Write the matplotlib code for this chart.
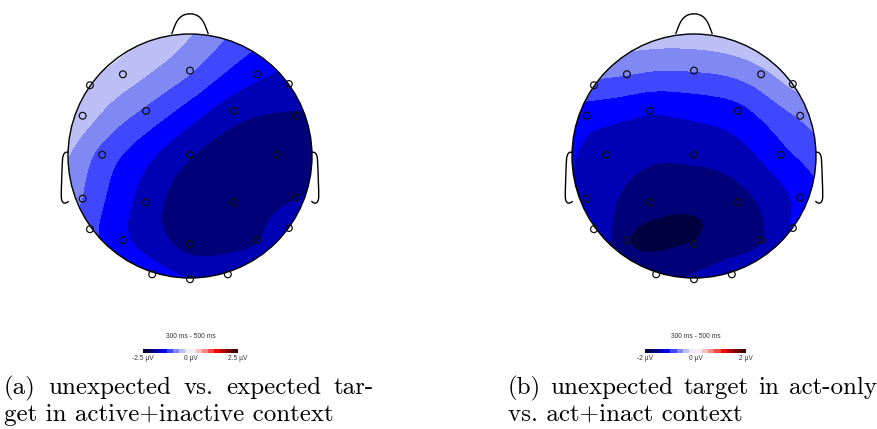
import numpy as np
import matplotlib
matplotlib.use('Agg')
import matplotlib.pyplot as plt
from matplotlib.colors import ListedColormap, BoundaryNorm
from matplotlib.patches import Circle, PathPatch
from matplotlib.path import Path
from matplotlib.cm import ScalarMappable

# electrode positions (head units, nose up, radius 1 = head outline)
elec_x = [-0.82, -0.55, 0.00, 0.55, 0.81,
          -0.88, -0.36, 0.36, 0.87,
          -0.72, 0.00, 0.71,
          -0.88, -0.36, 0.36, 0.87,
          -0.82, -0.55, 0.00, 0.55, 0.81,
          -0.31, 0.00, 0.31]
elec_y = [0.58, 0.67, 0.70, 0.67, 0.59,
          0.33, 0.37, 0.37, 0.33,
          0.01, 0.01, 0.01,
          -0.35, -0.38, -0.38, -0.34,
          -0.60, -0.69, -0.72, -0.69, -0.59,
          -0.97, -1.01, -0.97]

# mean amplitude 300-500 ms (µV) at each electrode
vals_a = [-0.34, -0.46, -0.90, -1.50, -1.70,
          -0.46, -1.00, -1.75, -1.90,
          -1.05, -1.85, -2.05,
          -0.95, -1.70, -2.15, -1.90,
          -1.15, -1.50, -2.00, -1.90, -1.60,
          -1.40, -1.55, -1.60]
vals_b = [-0.82, -0.74, -0.74, -0.58, -0.45,
          -1.15, -1.22, -1.08, -0.72,
          -1.35, -1.44, -1.08,
          -1.30, -1.65, -1.60, -1.18,
          -1.25, -1.73, -1.74, -1.52, -1.22,
          -1.58, -1.45, -1.35]

vmax_a = 2.5
vmax_b = 2.0
cb_title = '300 ms - 500 ms'
captions = [["(a) unexpected vs. expected tar-", "get in active+inactive context"],
            ["(b) unexpected target in act-only", "vs. act+inact context"]]

neg = ['#000040', '#000078', '#0000b4', '#0000ff', '#4048ff', '#8088f4', '#bcc0f6', '#eceefc']
pos = ['#fceeee', '#f6c0bc', '#f48880', '#ff4840', '#ff0000', '#b40000', '#780000', '#400000']
cmap = ListedColormap(neg + pos)
cmap.set_under(neg[0])
cmap.set_over(pos[-1])


def tps(px, py, v, gx, gy):
    px, py, v = np.asarray(px), np.asarray(py), np.asarray(v)
    n = len(px)
    d = np.hypot(px[:, None] - px[None, :], py[:, None] - py[None, :])
    K = np.where(d > 0, d**2 * np.log(d + 1e-12), 0.0)
    P = np.column_stack([np.ones(n), px, py])
    A = np.zeros((n + 3, n + 3))
    A[:n, :n] = K
    A[:n, n:] = P
    A[n:, :n] = P.T
    w = np.linalg.solve(A, np.concatenate([v, np.zeros(3)]))
    dg = np.hypot(gx[..., None] - px, gy[..., None] - py)
    Kg = np.where(dg > 0, dg**2 * np.log(dg + 1e-12), 0.0)
    return Kg @ w[:n] + w[n] + w[n + 1] * gx + w[n + 2] * gy


fig = plt.figure(figsize=(8.77, 4.29), dpi=100)
ax = fig.add_axes([0, 0, 1, 1])
ax.set_xlim(0, 877)
ax.set_ylim(429, 0)
ax.axis('off')

R = 122
heads = [(190, 156, vals_a, vmax_a, (143, 238)),
         (694, 156, vals_b, vmax_b, (645, 746))]

g = np.linspace(-1.02, 1.02, 240)
gx, gy = np.meshgrid(g, g)

for cx, cy, vals, vmax, (cb0, cb1) in heads:
    z = tps(elec_x, elec_y, vals, gx, gy)
    levels = np.linspace(-vmax, vmax, 17)
    norm = BoundaryNorm(levels, cmap.N)
    cs = ax.contourf(cx + R * gx, cy - R * gy, z, levels=levels, cmap=cmap,
                     norm=norm, extend='both')
    clip = Circle((cx, cy), R, transform=ax.transData)
    cs.set_clip_path(clip)

    ax.add_patch(Circle((cx, cy), R, fill=False, ec='black', lw=1.0, zorder=3))
    # nose
    nose = [(-0.15, 1.0), (-0.12, 1.08), (-0.10, 1.165), (0.0, 1.165),
            (0.10, 1.165), (0.12, 1.08), (0.15, 1.0)]
    codes = [Path.MOVETO, Path.CURVE4, Path.CURVE4, Path.CURVE4,
             Path.CURVE4, Path.CURVE4, Path.CURVE4]
    ax.add_patch(PathPatch(Path([(cx + R * u, cy - R * v) for u, v in nose], codes),
                           fill=False, ec='black', lw=1.0, zorder=3))
    # ears
    for s in (-1, 1):
        ear = [(0.995, 0.03), (1.02, 0.035), (1.04, 0.03), (1.045, -0.03),
               (1.05, -0.12), (1.055, -0.26), (1.055, -0.33),
               (1.055, -0.39), (1.025, -0.40), (0.995, -0.37)]
        codes = [Path.MOVETO, Path.CURVE4, Path.CURVE4, Path.CURVE4,
                 Path.CURVE4, Path.CURVE4, Path.CURVE4,
                 Path.CURVE4, Path.CURVE4, Path.CURVE4]
        ax.add_patch(PathPatch(Path([(cx + s * R * u, cy - R * v) for u, v in ear], codes),
                               fill=False, ec='black', lw=1.0, zorder=3))
    # electrodes
    ax.scatter(cx + R * np.array(elec_x), cy - R * np.array(elec_y), s=24,
               facecolors='none', edgecolors='#111111', linewidths=0.9, zorder=4)

    # colorbar
    cax = fig.add_axes([cb0 / 877, 1 - 352.5 / 429, (cb1 - cb0) / 877, 3.5 / 429])
    cb = fig.colorbar(ScalarMappable(norm=norm, cmap=cmap), cax=cax,
                      orientation='horizontal')
    cb.outline.set_visible(False)
    cax.minorticks_off()
    lab = lambda t: ('%g µV' % t)
    cb.set_ticks([-vmax, 0, vmax], labels=[lab(-vmax), lab(0), lab(vmax)])
    cax.tick_params(which='both', length=0, pad=1.5, labelsize=4.8, labelcolor='#333333')
    for t in cax.get_xticklabels():
        t.set_fontfamily('Liberation Sans')
    ax.text((cb0 + cb1) / 2, 336, cb_title, ha='center', va='center',
            fontsize=4.8, color='#333333', family='Liberation Sans')

# captions: first line justified to the subfigure width
renderer = fig.canvas.get_renderer()
fs = 18
probe = ax.text(0, 0, 'a a', fontsize=fs, family='cmr10')
probe1 = ax.text(0, 0, 'aa', fontsize=fs, family='cmr10')
spw = probe.get_window_extent(renderer).width - probe1.get_window_extent(renderer).width
probe.remove()
probe1.remove()

tt_all = []
nat = []
for line1, line2 in captions:
    words = line1.split(' ')
    tt = [ax.text(0, 394, w, fontsize=fs, family='cmr10', va='baseline') for w in words]
    widths = [t.get_window_extent(renderer).width for t in tt]
    tt_all.append((tt, widths))
    nat.append(sum(widths) + spw * (len(words) - 1))
W = max(nat) + 6
boxes = [(4, 4 + W), (877 - W, 877)]
for (x0, x1), (tt, widths), (line1, line2) in zip(boxes, tt_all, captions):
    gap = (x1 - x0 - sum(widths)) / (len(tt) - 1)
    x = x0
    for t, w in zip(tt, widths):
        t.set_x(x)
        x += w + gap
    ax.text(x0, 421, line2, fontsize=fs, family='cmr10', va='baseline')

fig.savefig('out.png', dpi=100)
